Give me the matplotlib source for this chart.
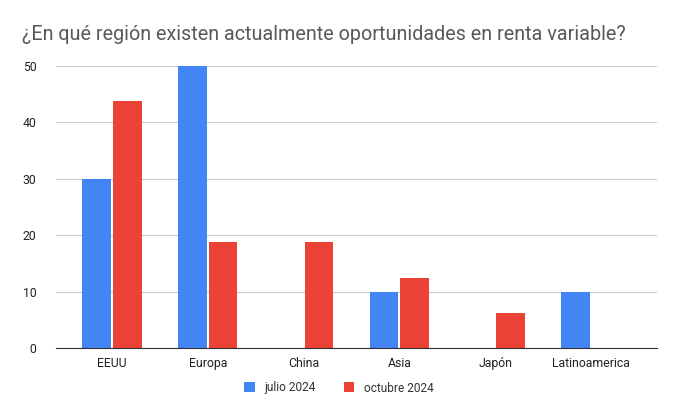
import numpy as np
import matplotlib.pyplot as plt

plt.rcParams['font.family'] = ['Roboto', 'DejaVu Sans']

regiones = ['EEUU', 'Europa', 'China', 'Asia', 'Japón', 'Latinoamerica']
julio = [30, 50, 0, 10, 0, 10]
octubre = [43.75, 18.75, 18.75, 12.5, 6.25, 0]

fig = plt.figure(figsize=(6.77, 4.17), dpi=100)
ax = fig.add_axes([56/677, 69/417, 601/677, 282/417])

x = np.arange(len(regiones))
w = 0.30
ax.bar(x - 0.16, julio, w, color='#4285F4', label='julio 2024')
ax.bar(x + 0.16, octubre, w, color='#EA4335', label='octubre 2024')

ax.set_xlim(-0.583, 5.6875)
ax.set_ylim(0, 50)
ax.set_yticks([0, 10, 20, 30, 40, 50])
ax.set_xticks(x)
ax.set_xticklabels(regiones, va='baseline')
ax.yaxis.grid(True, color='#cccccc', linewidth=0.8)
ax.set_axisbelow(True)
for s in ['top', 'right', 'left']:
    ax.spines[s].set_visible(False)
ax.spines['bottom'].set_color('#333333')
ax.tick_params(axis='both', length=0, labelsize=8.8, colors='#222222')
ax.tick_params(axis='y', pad=14)
ax.tick_params(axis='x', pad=14)

fig.text(22/677, 1 - 35/417, '¿En qué región existen actualmente oportunidades en renta variable?',
         fontsize=14.2, color='#595959', va='center', ha='left')
fig.legend(loc='center', bbox_to_anchor=(339/677, 1 - 388/417), ncol=2, frameon=False,
           fontsize=8.6, labelcolor='#333333', handlelength=0.9, handleheight=0.9,
           columnspacing=2.3, handletextpad=0.8)

fig.savefig('out.png', dpi=100)
